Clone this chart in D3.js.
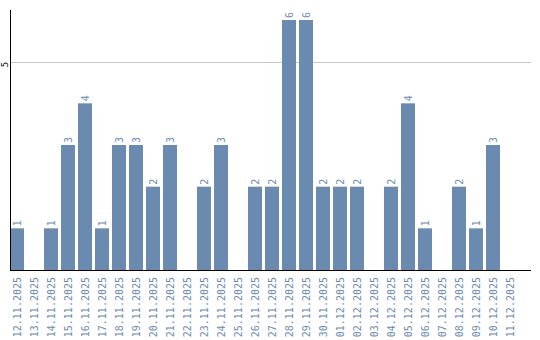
<!DOCTYPE html>
<html>
<head>
<meta charset="utf-8">
<script src="https://cdn.jsdelivr.net/npm/d3@7"></script>
<style>
  body { margin: 0; background: #fff; }
  text { font-family: "DejaVu Sans Mono", monospace; }
</style>
</head>
<body>
<svg id="chart" width="540" height="340"></svg>
<script>
var dates = ["12.11.2025", "13.11.2025", "14.11.2025", "15.11.2025", "16.11.2025",
  "17.11.2025", "18.11.2025", "19.11.2025", "20.11.2025", "21.11.2025",
  "22.11.2025", "23.11.2025", "24.11.2025", "25.11.2025", "26.11.2025",
  "27.11.2025", "28.11.2025", "29.11.2025", "30.11.2025", "01.12.2025",
  "02.12.2025", "03.12.2025", "04.12.2025", "05.12.2025", "06.12.2025",
  "07.12.2025", "08.12.2025", "09.12.2025", "10.12.2025", "11.12.2025"];
var counts = [1, 0, 1, 3, 4, 1, 3, 3, 2, 3,
  0, 2, 3, 0, 2, 2, 6, 6, 2, 2,
  2, 0, 2, 4, 1, 0, 2, 1, 3, 0];
var yTicks = [5];

var svg = d3.select("#chart"),
  plotLeft = 10,
  plotRight = 531,
  plotTop = 10,
  plotBottom = 270,
  barColor = "#6a8baf";

var data = dates.map(function(d, i) {
  return { date: d, value: counts[i] };
});

var x = d3.scaleBand()
  .domain(dates)
  .range([plotLeft, 517])
  .paddingInner(3 / 17)
  .paddingOuter(0);

var y = d3.scaleLinear()
  .domain([0, d3.max(counts) * 1.04])
  .range([plotBottom, plotTop]);

// gridlines
svg.append("g").selectAll("line").data(yTicks).enter().append("line")
  .attr("x1", plotLeft)
  .attr("x2", plotRight)
  .attr("y1", function(d) { return Math.round(y(d)) + 0.5; })
  .attr("y2", function(d) { return Math.round(y(d)) + 0.5; })
  .attr("stroke", "#c8c8c8");

// bars
svg.append("g").selectAll("rect").data(data.filter(function(d) { return d.value > 0; }))
  .enter().append("rect")
  .attr("x", function(d) { return x(d.date); })
  .attr("y", function(d) { return y(d.value); })
  .attr("width", x.bandwidth())
  .attr("height", function(d) { return plotBottom - y(d.value); })
  .attr("fill", barColor);

// value labels
svg.append("g").selectAll("text").data(data.filter(function(d) { return d.value > 0; }))
  .enter().append("text")
  .attr("transform", function(d) {
    return "translate(" + (x(d.date) + x.bandwidth() / 2 + 3.5) + "," + (y(d.value) - 2) + ") rotate(-90)";
  })
  .attr("fill", barColor)
  .style("font-size", "10px")
  .text(function(d) { return d.value; });

// axes lines
svg.append("line")
  .attr("x1", plotLeft + 0.5).attr("x2", plotLeft + 0.5)
  .attr("y1", plotTop).attr("y2", plotBottom)
  .attr("stroke", "#000");
svg.append("line")
  .attr("x1", plotLeft).attr("x2", plotRight)
  .attr("y1", plotBottom + 0.5).attr("y2", plotBottom + 0.5)
  .attr("stroke", "#000");

// y tick labels
svg.append("g").selectAll("text").data(yTicks).enter().append("text")
  .attr("transform", function(d) { return "translate(8," + (y(d) + 3) + ") rotate(-90)"; })
  .attr("text-anchor", "middle")
  .attr("fill", "#000")
  .style("font-size", "9px")
  .text(function(d) { return d; });

// x labels
svg.append("g").selectAll("text").data(dates).enter().append("text")
  .attr("transform", function(d) {
    return "translate(" + (x(d) + x.bandwidth() / 2 + 3.5) + "," + (plotBottom + 7) + ") rotate(-90)";
  })
  .attr("text-anchor", "end")
  .attr("fill", barColor)
  .style("font-size", "10px")
  .text(function(d) { return d; });
</script>
</body>
</html>
